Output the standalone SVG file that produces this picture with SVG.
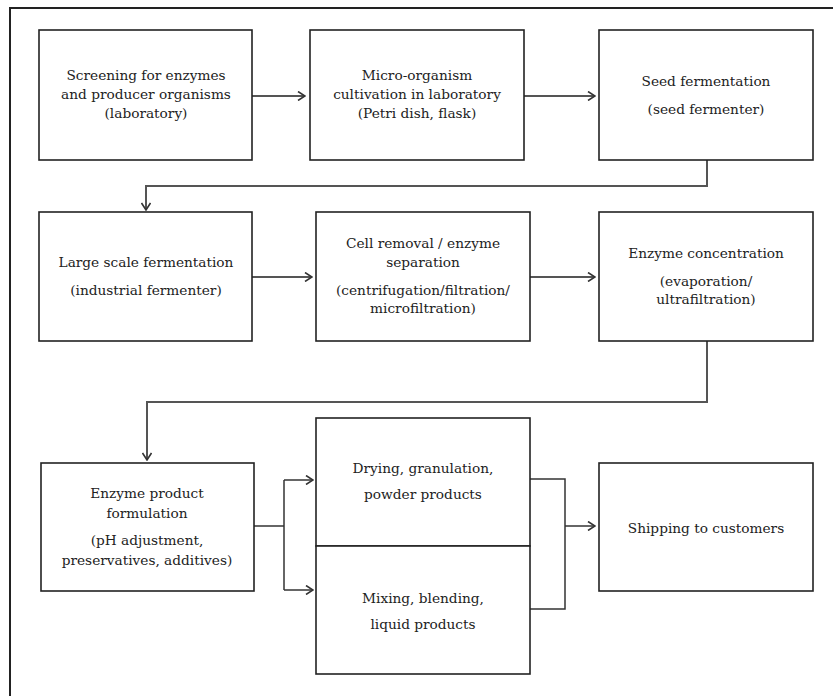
<svg xmlns="http://www.w3.org/2000/svg" width="833" height="696" viewBox="0 0 833 696">
<defs>
<style>
.box{fill:#fff;stroke:#222;stroke-width:1.6}
.frame{fill:none;stroke:#222;stroke-width:2}
.conn{fill:none;stroke:#555;stroke-width:2}
.conn2{fill:none;stroke:#333;stroke-width:1.5}
text{font-family:"DejaVu Serif","Liberation Serif",serif;font-size:13.7px;fill:#222;text-anchor:middle}
</style>
<marker id="ah" viewBox="0 0 10 10" refX="9" refY="5" markerWidth="10" markerHeight="10" markerUnits="userSpaceOnUse" orient="auto">
<path d="M2,0.5 L9,5 L2,9.5" fill="none" stroke="#333" stroke-width="1.6"/>
</marker>
</defs>
<rect width="833" height="696" fill="#fff"/>
<path class="frame" d="M10,700 V8 H840"/>
<g id="connectors">
<line class="conn" x1="252" y1="96" x2="305" y2="96" marker-end="url(#ah)"/>
<line class="conn" x1="524" y1="96" x2="595" y2="96" marker-end="url(#ah)"/>
<path class="conn" d="M707,160 V186 H146 V210" marker-end="url(#ah)"/>
<line class="conn" x1="252" y1="277" x2="312" y2="277" marker-end="url(#ah)"/>
<line class="conn" x1="530" y1="277" x2="595" y2="277" marker-end="url(#ah)"/>
<path class="conn" d="M707,341 V402 H147 V460" marker-end="url(#ah)"/>
<path class="conn2" d="M254,526 H284"/>
<path class="conn2" d="M284,480 V590"/>
<line class="conn2" x1="284" y1="480" x2="313" y2="480" marker-end="url(#ah)"/>
<line class="conn2" x1="284" y1="590" x2="313" y2="590" marker-end="url(#ah)"/>
<path class="conn2" d="M530,479 H565 V609 H530"/>
<line class="conn2" x1="565" y1="526" x2="595" y2="526" marker-end="url(#ah)"/>
</g>
<g id="n1"><rect class="box" x="39" y="30" width="213" height="130"/>
<text x="146" y="80">Screening for enzymes</text><text x="146" y="99">and producer organisms</text><text x="146" y="118">(laboratory)</text></g>
<g id="n2"><rect class="box" x="310" y="30" width="214" height="130"/>
<text x="417" y="80">Micro-organism</text><text x="417" y="99">cultivation in laboratory</text><text x="417" y="118">(Petri dish, flask)</text></g>
<g id="n3"><rect class="box" x="599" y="30" width="214" height="130"/>
<text x="706" y="86">Seed fermentation</text><text x="706" y="114">(seed fermenter)</text></g>
<g id="n4"><rect class="box" x="39" y="212" width="213" height="129"/>
<text x="146" y="267">Large scale fermentation</text><text x="146" y="295">(industrial fermenter)</text></g>
<g id="n5"><rect class="box" x="316" y="212" width="214" height="129"/>
<text x="423" y="248">Cell removal / enzyme</text><text x="423" y="267">separation</text><text x="423" y="295">(centrifugation/filtration/</text><text x="423" y="313">microfiltration)</text></g>
<g id="n6"><rect class="box" x="599" y="212" width="214" height="129"/>
<text x="706" y="258">Enzyme concentration</text><text x="706" y="286">(evaporation/</text><text x="706" y="304">ultrafiltration)</text></g>
<g id="n7"><rect class="box" x="41" y="463" width="213" height="128"/>
<text x="147" y="498">Enzyme product</text><text x="147" y="518">formulation</text><text x="147" y="545">(pH adjustment,</text><text x="147" y="565">preservatives, additives)</text></g>
<g id="n8"><rect class="box" x="316" y="418" width="214" height="128"/>
<text x="423" y="473">Drying, granulation,</text><text x="423" y="499">powder products</text></g>
<g id="n9"><rect class="box" x="316" y="546" width="214" height="128"/>
<text x="423" y="603">Mixing, blending,</text><text x="423" y="629">liquid products</text></g>
<g id="n10"><rect class="box" x="599" y="463" width="214" height="128"/>
<text x="706" y="533">Shipping to customers</text></g>
</svg>
